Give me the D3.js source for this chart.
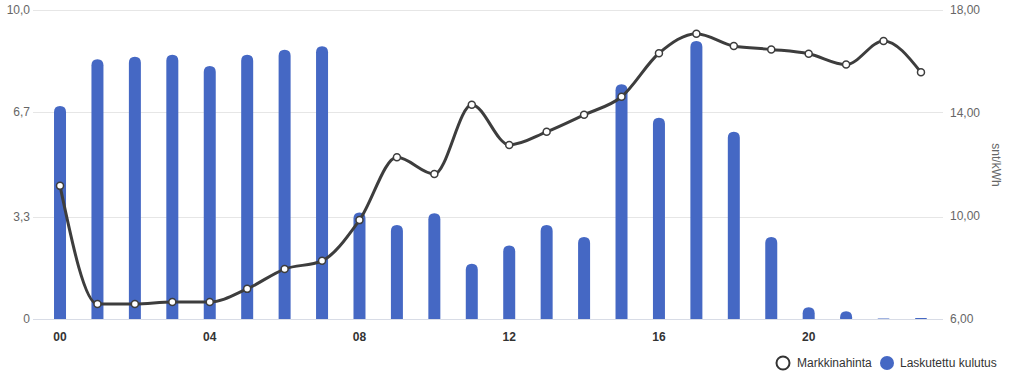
<!DOCTYPE html>
<html>
<head>
<meta charset="utf-8">
<script src="https://cdn.jsdelivr.net/npm/d3@7"></script>
<style>
  body { margin: 0; background: #fff; }
  svg { display: block; font-family: "Liberation Sans", Arial, Helvetica, sans-serif; }
</style>
</head>
<body>
<script>
var hours = ['00','01','02','03','04','05','06','07','08','09','10','11',
             '12','13','14','15','16','17','18','19','20','21','22','23'];
var consumption = [6.89, 8.41, 8.49, 8.55, 8.19, 8.55, 8.71, 8.83, 3.45, 3.04, 3.42, 1.79,
                   2.38, 3.04, 2.65, 7.60, 6.51, 9.00, 6.06, 2.65, 0.38, 0.25, 0.02, 0.03];
var price = [11.17, 6.58, 6.58, 6.66, 6.66, 7.17, 7.94, 8.26, 9.84, 12.28, 11.63, 14.32,
             12.76, 13.27, 13.93, 14.63, 16.32, 17.08, 16.60, 16.47, 16.30, 15.88, 16.80, 15.58];
var leftTicks = [0, 3.3, 6.7, 10];
var rightTicks = [6, 10, 14, 18];
var xTickLabels = ['00', '04', '08', '12', '16', '20'];
var seriesNames = ['Markkinahinta', 'Laskutettu kulutus'];

var W = 1010, H = 381;
var plotTop = 10, plotBottom = 319;
var barColor = '#4568c4', lineColor = '#3d3d3d';

var svg = d3.select('body').append('svg')
  .attr('width', W)
  .attr('height', H);

var x = d3.scaleBand().domain(hours).range([41.3, 939.7]);
var yL = d3.scaleLinear().domain([0, 10]).range([plotBottom, plotTop]);
var yR = d3.scaleLinear().domain([6, 18]).range([plotBottom, plotTop]);

// grid
svg.append('g').selectAll('line')
  .data(leftTicks)
  .enter().append('line')
  .attr('x1', 33).attr('x2', 943)
  .attr('y1', function(d) { return Math.round(yL(d)) + 0.5; })
  .attr('y2', function(d) { return Math.round(yL(d)) + 0.5; })
  .attr('stroke', function(d) { return d === 0 ? '#d8dce6' : '#e6e6e6'; })
  .attr('stroke-width', 1);

// left axis labels
var fmt1 = function(d) { return d === 0 ? '0' : d.toFixed(1).replace('.', ','); };
svg.append('g').selectAll('text')
  .data(leftTicks)
  .enter().append('text')
  .attr('x', 30)
  .attr('y', function(d) { return yL(d) + 4; })
  .attr('text-anchor', 'end')
  .attr('font-size', 12)
  .attr('fill', '#666')
  .text(fmt1);

// right axis labels
svg.append('g').selectAll('text')
  .data(rightTicks)
  .enter().append('text')
  .attr('x', 950)
  .attr('y', function(d) { return yR(d) + 4; })
  .attr('font-size', 12)
  .attr('fill', '#666')
  .text(function(d) { return d.toFixed(2).replace('.', ','); });

svg.append('text')
  .attr('transform', 'translate(992,165) rotate(90)')
  .attr('text-anchor', 'middle')
  .attr('font-size', 12)
  .attr('fill', '#666')
  .text('snt/kWh');

// x labels
svg.append('g').selectAll('text')
  .data(xTickLabels)
  .enter().append('text')
  .attr('x', function(d) { return x(d) + x.bandwidth() / 2; })
  .attr('y', 341)
  .attr('text-anchor', 'middle')
  .attr('font-size', 12)
  .attr('font-weight', 'bold')
  .attr('fill', '#333')
  .text(function(d) { return d; });

// bars with rounded tops
var bw = 12;
function barPath(d, i) {
  var cx = x(hours[i]) + x.bandwidth() / 2;
  var x0 = cx - bw / 2, x1 = cx + bw / 2;
  var y0 = yL(d), h = plotBottom - y0;
  if (h < 0.6) { h = 0.6; y0 = plotBottom - h; }
  var r = Math.min(bw / 2, h);
  return 'M' + x0 + ',' + plotBottom +
    'L' + x0 + ',' + (y0 + r) +
    'Q' + x0 + ',' + y0 + ' ' + (x0 + r) + ',' + y0 +
    'L' + (x1 - r) + ',' + y0 +
    'Q' + x1 + ',' + y0 + ' ' + x1 + ',' + (y0 + r) +
    'L' + x1 + ',' + plotBottom + 'Z';
}
svg.append('g').selectAll('path')
  .data(consumption)
  .enter().append('path')
  .attr('d', barPath)
  .attr('fill', barColor);

// price line
var line = d3.line()
  .curve(d3.curveMonotoneX)
  .x(function(d, i) { return x(hours[i]) + x.bandwidth() / 2; })
  .y(function(d) { return yR(d); });

svg.append('path')
  .datum(price)
  .attr('d', line)
  .attr('fill', 'none')
  .attr('stroke', lineColor)
  .attr('stroke-width', 3);

svg.append('g').selectAll('circle')
  .data(price)
  .enter().append('circle')
  .attr('cx', function(d, i) { return x(hours[i]) + x.bandwidth() / 2; })
  .attr('cy', function(d) { return yR(d); })
  .attr('r', 3.5)
  .attr('fill', '#fff')
  .attr('stroke', lineColor)
  .attr('stroke-width', 1.5);

// legend
var legend = svg.append('g').attr('font-size', 12).attr('fill', '#333');
legend.append('circle')
  .attr('cx', 783).attr('cy', 363).attr('r', 6.5)
  .attr('fill', '#fff').attr('stroke', '#333').attr('stroke-width', 2);
legend.append('text').attr('x', 797).attr('y', 367).attr('fill', '#333').text(seriesNames[0]);
legend.append('circle')
  .attr('cx', 887).attr('cy', 363).attr('r', 7)
  .attr('fill', barColor);
legend.append('text').attr('x', 900).attr('y', 367).attr('fill', '#333').text(seriesNames[1]);
</script>
</body>
</html>
